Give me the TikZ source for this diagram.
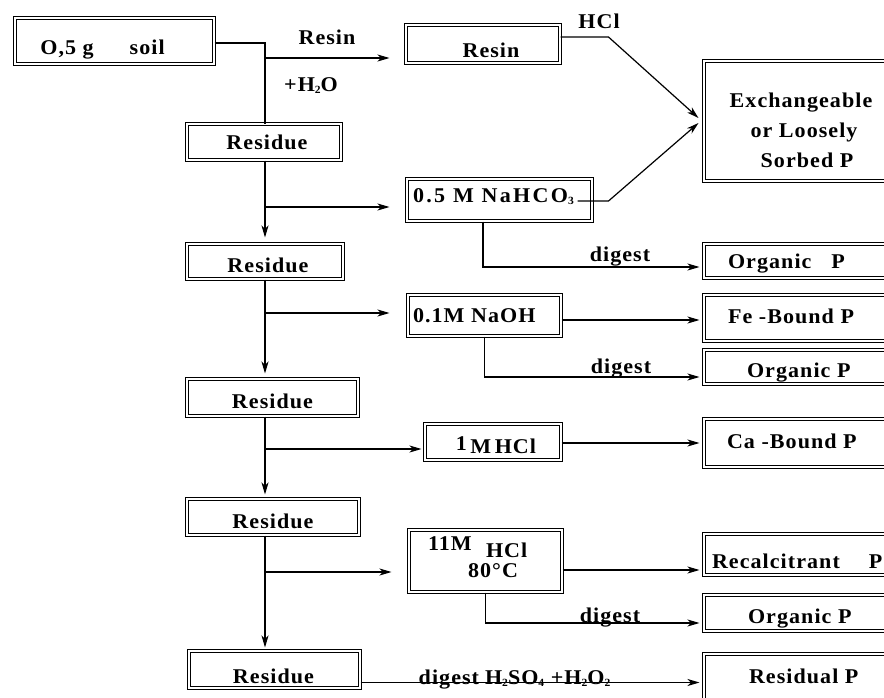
\documentclass[tikz,border=0pt]{standalone}
\usepackage{fontspec}
\setmainfont{Liberation Serif}[LetterSpace=5,FakeStretch=1.05]
\usetikzlibrary{arrows.meta,calc}
\newcommand\Tc[3]{\makebox[0pt]{\hspace*{#1}\hspace*{#1}\raisebox{-#2}[0pt][0pt]{#3}}}
\newcommand\Tl[3]{\makebox[0pt][l]{\hspace*{#1}\raisebox{-#2}[0pt][0pt]{#3}}}
\newcommand\sbs[1]{\raisebox{-2pt}{\fontsize{11}{11}\selectfont #1}}
\tikzset{
  bx/.style={draw, double, line width=1pt, double distance=1.8pt, inner sep=0pt,
    text height=14pt, text depth=0pt, font=\bfseries\fontsize{21}{25}\selectfont},
  lbl/.style={inner sep=0pt, text height=14pt, text depth=0pt,
    font=\bfseries\fontsize{21}{25}\selectfont},
  ln/.style={line width=1.2pt},
  arr/.style={line width=1.2pt, -{Stealth[length=12pt,width=7pt,inset=3.5pt]}},
}
\begin{document}
\begin{tikzpicture}[x=1pt,y=-1pt]
\useasboundingbox (0,0) rectangle (884,697);
\clip (0,0) rectangle (884,697);
% left column
\node[bx, minimum width=199pt, minimum height=46pt] (soil) at (114.5,41) {\Tc{-12pt}{6.5pt}{O,5 g\hspace{36pt}soil}};
\node[bx, minimum width=154pt, minimum height=36pt] (r1) at (264,142) {\Tc{3pt}{0pt}{Residue}};
\node[bx, minimum width=156pt, minimum height=35pt] (r2) at (265,261.5) {\Tc{3pt}{3.5pt}{Residue}};
\node[bx, minimum width=171pt, minimum height=37pt] (r3) at (272.5,397.5) {\Tc{0pt}{4pt}{Residue}};
\node[bx, minimum width=172pt, minimum height=36pt] (r4) at (273,517) {\Tc{0pt}{4.5pt}{Residue}};
\node[bx, minimum width=171pt, minimum height=37pt] (r5) at (274.5,669.5) {\Tc{-1pt}{6.5pt}{Residue}};
% middle column
\node[bx, minimum width=154pt, minimum height=38pt] (resin) at (483,44) {\Tc{8pt}{6pt}{Resin}};
\node[bx, minimum width=185pt, minimum height=42pt] (nah) at (499.5,200) {\Tl{-86.5pt}{-4.5pt}{{\addfontfeature{LetterSpace=11}0.5 M NaHCO}\sbs{3}}};
\node[bx, minimum width=153pt, minimum height=41pt] (naoh) at (484.5,315.5) {\Tl{-71.5pt}{0pt}{0.1M NaOH}};
\node[bx, minimum width=136pt, minimum height=36pt] (hcl1) at (493,442) {\Tc{3pt}{4.5pt}{\raisebox{3pt}{1}\,M\,HCl}};
\node[bx, minimum width=153pt, minimum height=62pt] (hcl11) at (485.5,561) {\Tl{-57.5pt}{-18pt}{11M}\Tl{0.5pt}{-11pt}{HCl}\Tl{-17.5pt}{9pt}{80°C}};
% right column
\node[bx, minimum width=226pt, minimum height=120pt] (exch) at (817,121) {\Tc{-16pt}{9pt}{\renewcommand\arraystretch{1.2}\begin{tabular}{@{}c@{}}Exchangeable\\\hspace*{6pt}or Loosely\\\hspace*{12pt}Sorbed P\end{tabular}}};
\node[bx, minimum width=226pt, minimum height=34pt] (org1) at (817,261) {\Tl{-89pt}{0.7pt}{Organic\hspace{20pt}P}};
\node[bx, minimum width=226pt, minimum height=46pt] (fe) at (817,318) {\Tl{-89pt}{-1.3pt}{Fe -Bound P}};
\node[bx, minimum width=226pt, minimum height=34pt] (org2) at (817,367) {\Tl{-70pt}{3pt}{Organic P}};
\node[bx, minimum width=226pt, minimum height=48pt] (ca) at (817,443) {\Tl{-90pt}{-1.3pt}{Ca -Bound P}};
\node[bx, minimum width=226pt, minimum height=41pt] (rec) at (817,554.5) {\Tl{-105pt}{6.5pt}{Recalcitrant\hspace{29pt}P}};
\node[bx, minimum width=226pt, minimum height=36pt] (org3) at (817,613) {\Tl{-69pt}{3.7pt}{Organic P}};
\node[bx, minimum width=226pt, minimum height=46pt] (resid) at (817,677) {\Tl{-68pt}{-1pt}{Residual P}};
% labels
\node[lbl] (lresin) at (327,37) {Resin};
\node[lbl] (lh2o) at (311,84) {+H\sbs{2}O};
\node[lbl] (lhcl) at (599,21) {HCl};
\node[lbl] (ld1) at (620,254) {digest};
\node[lbl] (ld2) at (621,366) {digest};
\node[lbl] (ld3) at (610,615) {digest};
\node[lbl] (ld4) at (514.5,677.5) {digest\hspace{6pt}H\sbs{2}SO\sbs{4} +H\sbs{2}O\sbs{2}};
% main trunk
\coordinate (v) at (265,0);
\draw[ln] ($(soil.east)+(0,2)$) -| (r1.north -| v);
\path ($(resin.west)+(0,14)$) coordinate (a1);
\draw[arr, shorten >=16pt] (a1 -| v) -- (a1);
\draw[arr, shorten >=6pt] (r1.south -| v) -- (r2.north -| v);
\path ($(nah.west)+(0,7)$) coordinate (a2);
\draw[arr, shorten >=17pt] (a2 -| v) -- (a2);
\draw[arr, shorten >=5pt] (r2.south -| v) -- (r3.north -| v);
\path ($(naoh.west)+(0,-2.5)$) coordinate (a3);
\draw[arr, shorten >=18pt] (a3 -| v) -- (a3);
\draw[arr, shorten >=4pt] (r3.south -| v) -- (r4.north -| v);
\path ($(hcl1.west)+(0,7)$) coordinate (a4);
\draw[arr, shorten >=3pt] (a4 -| v) -- (a4);
\draw[arr, shorten >=3pt] (r4.south -| v) -- (r5.north -| v);
\path ($(hcl11.west)+(0,11)$) coordinate (a5);
\draw[arr, shorten >=17pt] (a5 -| v) -- (a5);
% to exchangeable
\draw[arr] ($(resin.east)+(0,-7)$) -- ++(48,0) -- ($(exch.west)+(-5,-3)$);
\draw[arr] ($(nah.east)+(-15,1)$) -- ++(31,0) -- ($(exch.west)+(-5,2)$);
% right side
\draw[arr, shorten >=4pt] ($(nah.south)+(-16.5,0)$) |- ($(org1.west)+(0,6)$);
\draw[arr, shorten >=4pt] ($(naoh.east)+(0,4.5)$) coordinate (t1) -- (t1 -| fe.west);
\draw[arr, shorten >=4pt] (naoh.south) |- ($(org2.west)+(0,10)$);
\draw[arr, shorten >=4pt] ($(hcl1.east)+(0,1)$) coordinate (t2) -- (t2 -| ca.west);
\draw[arr, shorten >=4pt] ($(hcl11.east)+(0,9)$) coordinate (t3) -- (t3 -| rec.west);
\draw[arr, shorten >=4pt] (hcl11.south) |- ($(org3.west)+(0,10)$);
\draw[arr, shorten >=4pt] ($(r5.east)+(0,13)$) coordinate (t4) -- (t4 -| resid.west);
\end{tikzpicture}
\end{document}
